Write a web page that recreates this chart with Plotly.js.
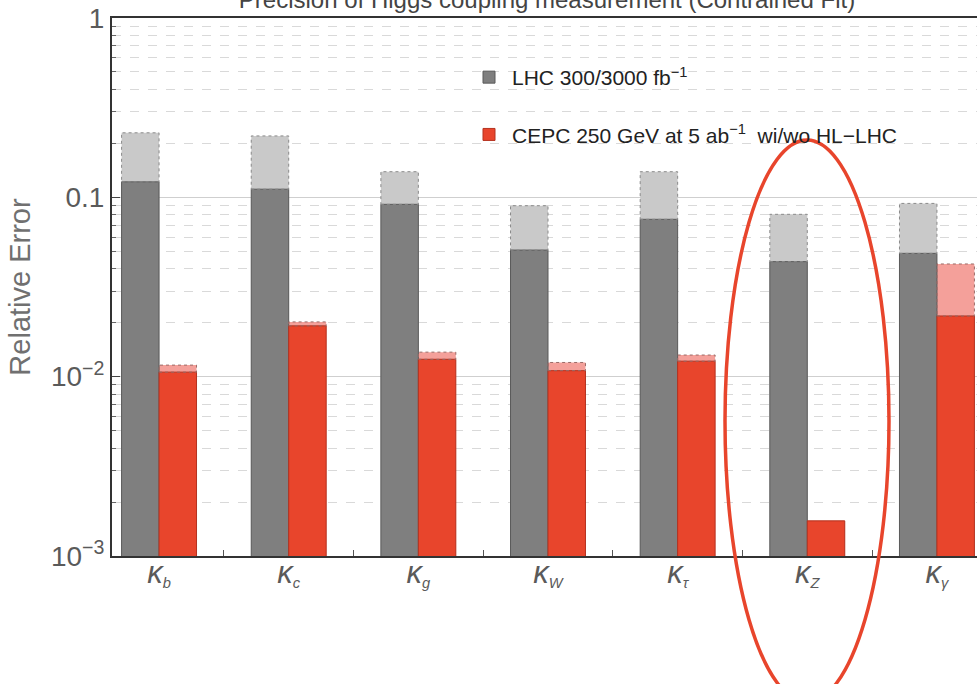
<!DOCTYPE html>
<html><head><meta charset="utf-8">
<script src="https://cdn.plot.ly/plotly-3.0.1.min.js"></script>
<style>html,body{margin:0;padding:0;overflow:hidden;background:#fff}#chart{width:1000px;height:684px}</style>
</head><body><div id="chart"></div>
<script>
const categories = ['b','c','g','W','τ','Z','γ'];
const lhc300 = [0.229, 0.220, 0.139, 0.0898, 0.139, 0.0804, 0.0925];
const lhc3000 = [0.122, 0.111, 0.0914, 0.0508, 0.0754, 0.0438, 0.0487];
const cepcAlone = [0.0116, 0.0202, 0.0137, 0.0120, 0.0132, 0.00157, 0.0425];
const cepcCombined = [0.0106, 0.0192, 0.0125, 0.0108, 0.0122, 0.00157, 0.0218];
const yTickVals = [0.001, 0.01, 0.1, 1];
const yTickText = ['10<sup>−3</sup>', '10<sup>−2</sup>', '0.1', '1'];

const tickLabels = categories.map(c => '<i><span style="font-size:31px">κ</span><sub>' + c + '</sub></i>');
const idx = categories.map((_, i) => i);
const W = 0.289;
const fig = 1000, L = 112, R = 16, T = 18, B = 128;
const pw = fig - L - R, ph = 684 - T - B;
const px = v => (v - L) / pw, py = v => (684 - B - v) / ph;

const traces = [
  {type:'bar', x:idx, y:lhc300, offset:-W, width:W, marker:{color:'#c9c9c9', line:{width:0}}, showlegend:false, hoverinfo:'y'},
  {type:'bar', x:idx, y:cepcAlone, offset:0, width:W, marker:{color:'#f4a09a', line:{width:0}}, showlegend:false, hoverinfo:'y'},
  {type:'bar', x:idx, y:lhc3000, offset:-W, width:W, name:'LHC 300/3000 fb<sup>−1</sup>', legendgroup:'a', marker:{color:'#7f7f7f', line:{color:'#5a5a5a', width:1}}},
  {type:'bar', x:idx, y:cepcCombined, offset:0, width:W, name:'CEPC 250 GeV at 5 ab<sup>−1</sup>  wi/wo HL−LHC', legendgroup:'b', marker:{color:'#e8452c', line:{color:'#b5321f', width:1}}}
];

const shapes = [];
idx.forEach(i => {
  if (lhc300[i] > lhc3000[i]) shapes.push({type:'rect', xref:'x', yref:'y', x0:i - W, x1:i, y0:lhc3000[i], y1:lhc300[i], line:{color:'#8a8a8a', width:1, dash:'dot'}, fillcolor:'rgba(0,0,0,0)', layer:'above'});
  if (cepcAlone[i] > cepcCombined[i]) shapes.push({type:'rect', xref:'x', yref:'y', x0:i, x1:i + W, y0:cepcCombined[i], y1:cepcAlone[i], line:{color:'#9a6a66', width:1, dash:'dot'}, fillcolor:'rgba(0,0,0,0)', layer:'above'});
});
// highlight ellipse (decoration)
shapes.push({type:'circle', xref:'paper', yref:'paper', x0:px(725), x1:px(889), y0:py(140), y1:py(702), line:{color:'#e8452c', width:3.5}, fillcolor:'rgba(0,0,0,0)', layer:'above'});

const font = 'Liberation Sans, Arial, sans-serif';
const layout = {
  width: fig, height: 684,
  margin: {l:L, r:R, t:T, b:B},
  paper_bgcolor:'#fff', plot_bgcolor:'#fff',
  barmode:'overlay',
  title: {text:'Precision of Higgs coupling measurement (Contrained Fit)', font:{family:font, size:24, color:'#444'}, x:0.547, xanchor:'center', xref:'container', yref:'container', y:1.0, yanchor:'middle'},
  xaxis: {type:'linear', range:[-0.363, 6.363], tickvals:idx, ticktext:tickLabels, ticks:'', showgrid:false, zeroline:false,
    showline:true, mirror:true, linecolor:'#333', linewidth:2,
    tickfont:{family:font, size:21, color:'#5a5a5a'},
    minor:{tick0:0.5, dtick:1, ticks:'inside', ticklen:6, tickcolor:'#555', showgrid:false}},
  yaxis: {type:'log', range:[-3, 0], tickvals:yTickVals, ticktext:yTickText, ticks:'inside', ticklen:8, tickcolor:'#444',
    showline:true, mirror:true, linecolor:'#333', linewidth:2, zeroline:false,
    showgrid:true, gridcolor:'#cfcfcf', gridwidth:1.5,
    tickfont:{family:font, size:28, color:'#5a5a5a'},
    title:{text:'Relative Error', font:{family:font, size:29, color:'#707070'}, standoff:12},
    minor:{dtick:'D1', ticks:'inside', ticklen:4, tickcolor:'#666', showgrid:true, gridcolor:'#d9d9d9', griddash:'dash', gridwidth:1}},
  legend: {x:px(466), y:py(57), xanchor:'left', yanchor:'top', bgcolor:'rgba(0,0,0,0)', tracegroupgap:27, itemwidth:36,
    font:{family:font, size:21, color:'#222'}},
  shapes: shapes
};

Plotly.newPlot('chart', traces, layout, {displayModeBar:false, staticPlot:true});
</script></body></html>
